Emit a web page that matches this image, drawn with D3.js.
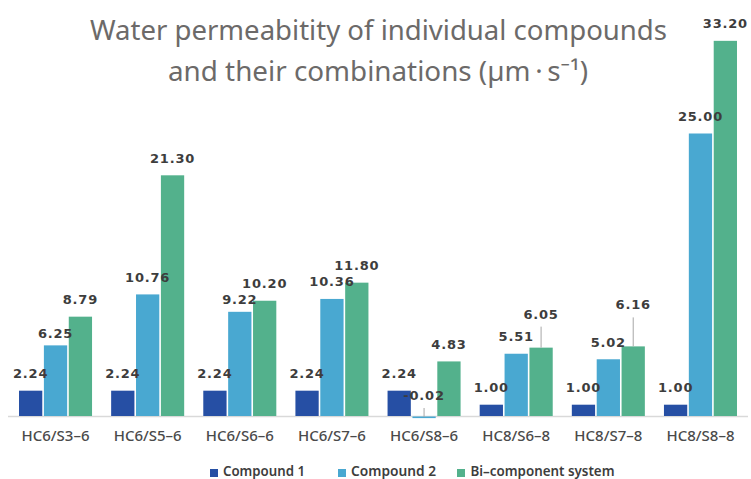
<!DOCTYPE html>
<html>
<head>
<meta charset="utf-8">
<script src="https://cdn.jsdelivr.net/npm/d3@7/dist/d3.min.js"></script>
<style>
  html, body { margin: 0; padding: 0; background: #ffffff; }
  svg { display: block; }
</style>
</head>
<body>
<svg id="chart" width="751" height="479"></svg>
<script>
// Membrane pairs on the x axis
const categories = ["HC6/S3–6", "HC6/S5–6", "HC6/S6–6", "HC6/S7–6", "HC6/S8–6", "HC8/S6–8", "HC8/S7–8", "HC8/S8–8"];

// Water permeability, µm·s⁻¹
const compound1 = [2.24, 2.24, 2.24, 2.24, 2.24, 1.00, 1.00, 1.00];
const compound2 = [6.25, 10.76, 9.22, 10.36, -0.02, 5.51, 5.02, 25.00];
const biComponent = [8.79, 21.30, 10.20, 11.80, 4.83, 6.05, 6.16, 33.20];

const seriesNames = ["Compound 1", "Compound 2", "Bi–component system"];
const titleLines = ["Water permeabitity of individual compounds", "and their combinations (µm\u2009·\u2009s\u207B\u00B9)"];

const colors = ["#264fa4", "#49a8d1", "#53b18c"];
const seriesValues = [compound1, compound2, biComponent];

const svg = d3.select("#chart");

// Title
const titleSpecs = [
  { y: 40, x0: 90, x1: 667 },
  { y: 81, x0: 168, x1: 588 }
];
titleLines.forEach((t, i) => {
  const s = titleSpecs[i];
  svg.append("text")
    .attr("x", s.x0)
    .attr("y", s.y)
    .attr("textLength", s.x1 - s.x0)
    .attr("lengthAdjust", "spacingAndGlyphs")
    .attr("font-family", "'Noto Sans', 'Open Sans', sans-serif")
    .attr("font-size", 27)
    .attr("fill", "#6c6a69")
    .text(t);
});

// Scales
const x0 = d3.scaleBand().domain(categories).range([9, 747]).paddingInner(0.19).paddingOuter(0.1);
const x1 = d3.scaleBand().domain(d3.range(3)).range([0, x0.bandwidth()]);
const y = d3.scaleLinear().domain([0, 35]).range([416, 416 - 35 * 11.3]);

// Rows of bar data
const rows = [];
categories.forEach((c, ci) => {
  seriesValues.forEach((vals, si) => {
    rows.push({ cat: c, ci, si, v: vals[ci] });
  });
});

const gap = 1.6;
const barX = d => x0(d.cat) + x1(d.si) + gap / 2;
const barW = x1.bandwidth() - gap;

// Baseline (drawn first so the small negative bar stays visible below it)
svg.append("line")
  .attr("x1", 8).attr("x2", 748)
  .attr("y1", y(0) + 0.5).attr("y2", y(0) + 0.5)
  .attr("stroke", "#d9d9d9")
  .attr("stroke-width", 1.5);

svg.append("g").selectAll("rect")
  .data(rows)
  .join("rect")
  .attr("x", barX)
  .attr("width", barW)
  .attr("y", d => d.v < 0 ? y(0) + 0.5 : y(d.v))
  .attr("height", d => Math.max(Math.abs(y(d.v) - y(0)), 1.6))
  .attr("fill", d => colors[d.si]);

// Category labels
const xAxis = d3.axisBottom(x0).tickSize(0).tickPadding(0);
const axisG = svg.append("g").attr("transform", `translate(0,${y(0)})`).call(xAxis);
axisG.select(".domain").remove();
axisG.selectAll("text")
  .attr("y", 25)
  .attr("dy", null)
  .attr("font-family", "'Noto Sans', 'Open Sans', sans-serif")
  .attr("font-size", 13.5)
  .attr("font-weight", 500)
  .attr("fill", "#4a4a4a")
  .attr("lengthAdjust", "spacingAndGlyphs")
  .attr("textLength", 68);

// Value labels; a few are lifted clear of neighbours and joined by a leader line
const labelLift = { "0-1": -5, "2-1": -4.5, "5-2": 16.5, "6-2": 24.5, "4-1": 3.5 };
const leaders = new Set(["5-2", "6-2", "4-1"]);
const labelGap = 12.5;

const labelY = d => Math.min(y(d.v), y(0)) - labelGap - (labelLift[d.ci + "-" + d.si] || 0);

svg.append("g").selectAll("line")
  .data(rows.filter(d => leaders.has(d.ci + "-" + d.si)))
  .join("line")
  .attr("x1", d => barX(d) + barW / 2)
  .attr("x2", d => barX(d) + barW / 2)
  .attr("y1", d => labelY(d) + 8)
  .attr("y2", d => Math.min(y(d.v), y(0)) + (d.v < 0 ? 1 : 0))
  .attr("stroke", "#a6a6a6")
  .attr("stroke-width", 1);

svg.append("g").selectAll("text")
  .data(rows)
  .join("text")
  .attr("x", d => barX(d) + barW / 2)
  .attr("y", labelY)
  .attr("text-anchor", "middle")
  .attr("font-family", "'DejaVu Sans', Verdana, sans-serif")
  .attr("font-size", 13)
  .attr("font-weight", "bold")
  .attr("letter-spacing", 0.8)
  .attr("fill", "#3d3d3d")
  .text(d => d.v.toFixed(2));

// Legend
const legendX = [210, 338, 457];
const legend = svg.append("g").selectAll("g")
  .data(seriesNames)
  .join("g")
  .attr("transform", (d, i) => `translate(${legendX[i]},469)`);
legend.append("rect")
  .attr("width", 8).attr("height", 8)
  .attr("fill", (d, i) => colors[i]);
legend.append("text")
  .attr("x", (d, i) => i === 2 ? 13.5 : 13)
  .attr("y", 7)
  .attr("font-family", "'Noto Sans', 'Open Sans', sans-serif")
  .attr("font-size", 13.5)
  .attr("font-weight", 600)
  .attr("fill", "#3d3d3d")
  .attr("lengthAdjust", "spacingAndGlyphs")
  .attr("textLength", (d, i) => [82, 85, 144][i])
  .text(d => d);
</script>
</body>
</html>
